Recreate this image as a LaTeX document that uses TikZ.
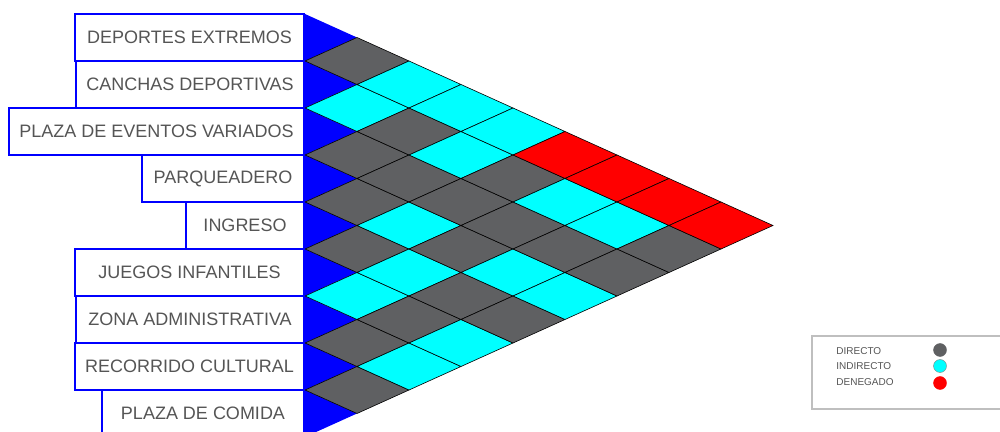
\documentclass[tikz,border=0pt]{standalone}
\usepackage{fontspec}
\setmainfont{Liberation Sans}
\usetikzlibrary{positioning}

\definecolor{direct}{RGB}{95,96,98}
\definecolor{indirect}{RGB}{0,255,255}
\definecolor{denied}{RGB}{255,0,0}
\definecolor{rowblue}{RGB}{0,0,255}
\definecolor{labelgray}{RGB}{85,85,85}

\begin{document}
\begin{tikzpicture}[x=0.5pt, y=-0.5pt,
  every node/.style={font=\fontsize{9}{10}\selectfont, text=labelgray, inner sep=0pt},
  labelbox/.style={draw=rowblue, fill=white, line width=1pt, rectangle, minimum height=23.5pt, anchor=east},
  cell/.style={draw=black, line width=0.3pt},
  legendtext/.style={font=\fontsize{5}{6}\selectfont, anchor=west},
  legenddot/.style={circle, minimum size=6.5pt, draw=black!50, line width=0.2pt}]

\useasboundingbox (0,0) rectangle (1000,432);

% Blue arrow tips of each row
\foreach \r in {0,...,8} {
  \pgfmathsetmacro\yc{37.5+47*\r}
  \fill[rowblue] (305,\yc-23.5) -- (357,\yc) -- (305,\yc+23.5) -- cycle;
}

% Relation cells (row i / row j / kind)
\foreach \i/\j/\col in {0/1/direct, 1/2/indirect, 2/3/direct, 3/4/direct, 4/5/direct, 5/6/indirect, 6/7/direct, 7/8/direct,
                        0/2/indirect, 1/3/direct, 2/4/direct, 3/5/indirect, 4/6/indirect, 5/7/direct, 6/8/indirect,
                        0/3/indirect, 1/4/indirect, 2/5/direct, 3/6/direct, 4/7/direct, 5/8/indirect,
                        0/4/indirect, 1/5/direct, 2/6/direct, 3/7/indirect, 4/8/direct,
                        0/5/denied, 1/6/indirect, 2/7/direct, 3/8/indirect,
                        0/6/denied, 1/7/indirect, 2/8/direct,
                        0/7/denied, 1/8/direct,
                        0/8/denied} {
  \pgfmathsetmacro\yc{37.5+23.5*(\i+\j)}
  \pgfmathsetmacro\xc{305+52*(\j-\i)}
  \filldraw[cell, fill=\col] (\xc-52,\yc) -- (\xc,\yc-23.5) -- (\xc+52,\yc) -- (\xc,\yc+23.5) -- cycle;
}

% Row labels
\foreach \r/\lx/\nm/\txt in {0/76/deportes/DEPORTES EXTREMOS, 1/77/canchas/CANCHAS DEPORTIVAS,
                             2/10/eventos/PLAZA DE EVENTOS VARIADOS, 3/143/parqueadero/PARQUEADERO,
                             4/187/ingreso/INGRESO, 5/76/juegos/JUEGOS INFANTILES,
                             6/77/admin/ZONA ADMINISTRATIVA, 7/76/recorrido/RECORRIDO CULTURAL,
                             8/103/comida/PLAZA DE COMIDA} {
  \pgfmathsetmacro\yc{37.5+47*\r}
  \node (\nm) [labelbox, minimum width={(305-\lx)*0.5pt}] at (305,\yc) {\txt};
}

% Legend
\draw[black!25, line width=0.6pt] (812,336) rectangle (1010,409);
\node (dir) [legendtext] at (836,351) {DIRECTO};
\node (ind) [legendtext] at (836,366.5) {INDIRECTO};
\node (den) [legendtext] at (836,382) {DENEGADO};
\node (dirdot) [legenddot, fill=direct, draw=direct] at (940,350) {};
\node (inddot) [legenddot, fill=indirect] at (940,366) {};
\node (dendot) [legenddot, fill=denied, draw=denied] at (940,383) {};

\end{tikzpicture}
\end{document}
